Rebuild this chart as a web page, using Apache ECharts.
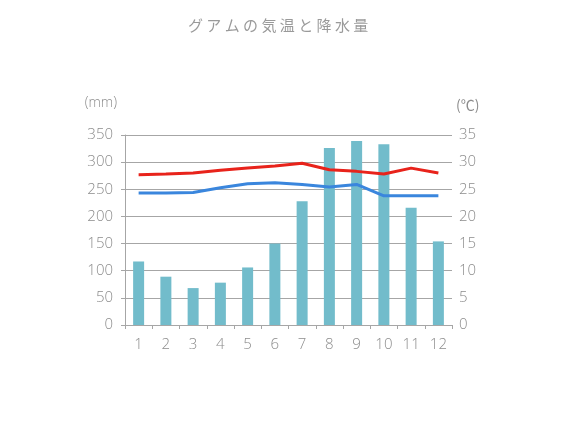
<!DOCTYPE html>
<html>
<head>
<meta charset="utf-8">
<script src="https://cdn.jsdelivr.net/npm/echarts@6/dist/echarts.min.js"></script>
<style>
html,body{margin:0;padding:0;background:#fff;}
#c{width:580px;height:435px;}
</style>
</head>
<body>
<div id="c"></div>
<script>
const months = ['1','2','3','4','5','6','7','8','9','10','11','12'];
const rainfall = [117, 89, 68, 78, 106, 150, 228, 326, 339, 333, 216, 154];
const tempHigh = [27.7, 27.8, 28.0, 28.5, 28.9, 29.3, 29.8, 28.6, 28.3, 27.8, 28.9, 28.0];
const tempLow = [24.3, 24.3, 24.4, 25.3, 26.0, 26.2, 25.9, 25.4, 25.9, 23.8, 23.8, 23.8];
const titleText = 'グアムの気温と降水量';

const cjkFont = "'Noto Sans CJK JP', 'Noto Sans', sans-serif";
const numFont = "'Open Sans', 'Noto Sans', sans-serif";
const labelColor = '#8c8c8c';
const lineColor = '#a6a6a6';

const chart = echarts.init(document.getElementById('c'));
chart.setOption({
  animation: false,
  backgroundColor: '#fff',
  title: {
    text: titleText.split('').join(' '),
    left: 183,
    top: 13,
    textStyle: { color: '#9a9a9a', fontSize: 15, fontWeight: 'normal', fontFamily: cjkFont }
  },
  grid: { left: 125, right: 128, top: 135, bottom: 110, containLabel: false },
  xAxis: {
    type: 'category',
    data: months,
    axisLine: { lineStyle: { color: lineColor } },
    axisTick: { show: true, length: 4, lineStyle: { color: lineColor } },
    axisLabel: { color: labelColor, fontSize: 15, margin: 12, fontFamily: numFont, fontWeight: 300 }
  },
  yAxis: [
    {
      type: 'value', min: 0, max: 350, interval: 50,
      name: '(mm)',
      nameLocation: 'end',
      nameGap: 25,
      nameTextStyle: { color: labelColor, fontSize: 14, fontFamily: numFont, fontWeight: 300, align: 'right', padding: [0, 8, 0, 0] },
      axisLine: { show: true, lineStyle: { color: lineColor } },
      axisTick: { show: true, length: 4, lineStyle: { color: lineColor } },
      axisLabel: { color: labelColor, fontSize: 15, margin: 12, fontFamily: numFont, fontWeight: 300 },
      splitLine: { lineStyle: { color: lineColor } }
    },
    {
      type: 'value', min: 0, max: 35, interval: 5,
      name: '(℃)',
      nameLocation: 'end',
      nameGap: 23,
      nameTextStyle: { color: labelColor, fontSize: 14, fontFamily: cjkFont, align: 'left', padding: [0, 0, 0, 4] },
      axisLine: { show: false },
      axisTick: { show: false },
      axisLabel: { color: labelColor, fontSize: 15, margin: 7, fontFamily: numFont, fontWeight: 300 },
      splitLine: { show: false }
    }
  ],
  series: [
    {
      name: '降水量', type: 'bar', data: rainfall, yAxisIndex: 0,
      barWidth: 11,
      itemStyle: { color: '#72bccb' }
    },
    {
      name: '最高気温', type: 'line', data: tempHigh, yAxisIndex: 1,
      symbol: 'none', smooth: false,
      lineStyle: { color: '#e8231b', width: 3 }
    },
    {
      name: '最低気温', type: 'line', data: tempLow, yAxisIndex: 1,
      symbol: 'none', smooth: false,
      lineStyle: { color: '#3a86dd', width: 3 }
    }
  ]
});
</script>
</body>
</html>
